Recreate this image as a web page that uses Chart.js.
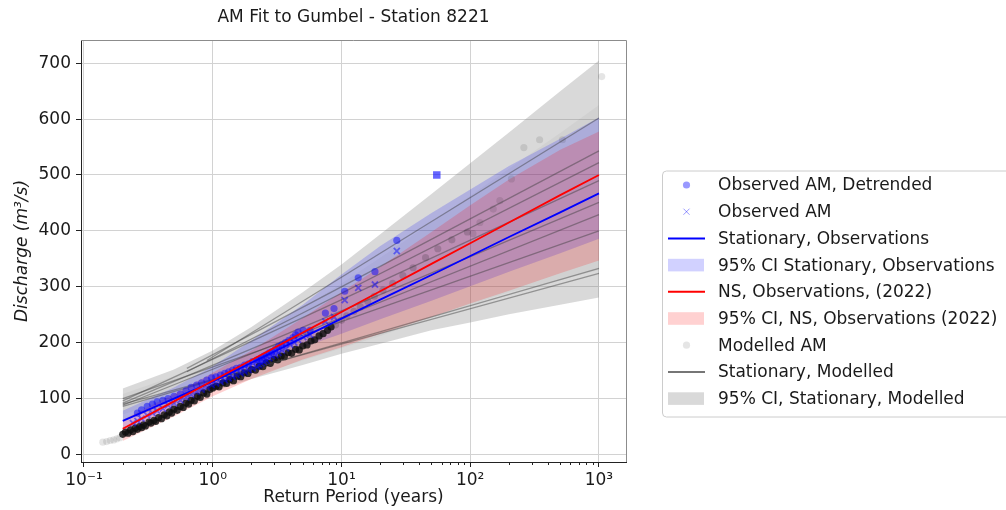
<!DOCTYPE html>
<html>
<head>
<meta charset="utf-8">
<title>AM Fit to Gumbel - Station 8221</title>
<script src="https://cdn.jsdelivr.net/npm/chart.js@4.4.1/dist/chart.umd.min.js"></script>
<style>
  html, body { margin: 0; padding: 0; background: #fff; }
  #wrap { position: relative; width: 1006px; height: 510px; }
</style>
</head>
<body>
<div id="wrap"><canvas id="gumbel" width="1006" height="510"></canvas></div>
<script>
// Return periods (years) where the fitted curves and their CIs are sampled
const returnPeriods = [0.2, 0.5, 1, 2, 5, 10, 20, 50, 100, 200, 500, 1000];

// Stationary fit to observations + 95% CI
const statObsFit   = [60, 100, 130, 164, 209, 243, 277, 321, 355, 389, 433, 467];
const statObsLower = [42, 84, 118, 152, 192, 216, 242, 275, 301, 327, 360, 386];
const statObsUpper = [78, 120, 158, 204, 268, 322, 373, 432, 474, 516, 565, 603];

// Non-stationary fit (2022) + 95% CI
const nsObsFit   = [46, 95, 132, 169, 218, 255, 292, 341, 378, 415, 464, 500];
const nsObsLower = [24, 68, 104, 135, 170, 192, 216, 246, 270, 293, 324, 347];
const nsObsUpper = [62, 108, 146, 186, 244, 290, 336, 398, 446, 492, 545, 578];

// 95% CI of the stationary fits to modelled members (outer envelope and core overlap)
const modelledCiUpper      = [118, 152, 186, 228, 290, 340, 394, 466, 521, 576, 650, 705];
const modelledCiLower      = [62, 90, 112, 135, 160, 180, 198, 222, 236, 251, 268, 281];
const modelledCiInnerUpper = [108, 140, 172, 208, 262, 306, 352, 415, 463, 511, 575, 625];
const modelledCiInnerLower = [72, 98, 118, 140, 168, 190, 212, 244, 268, 290, 312, 330];

// Stationary fits to each modelled member: start point, all run out to 1000 years
const modelledFitEndT   = 1000;
const modelledFitStartT = [0.9, 0.63, 0.63, 0.2, 0.2, 0.2, 0.2, 0.2, 0.2];
const modelledFitStartQ = [168, 154, 148, 96, 92, 88, 100, 86, 90];
const modelledFitEndQ   = [602, 543, 522, 490, 451, 429, 400, 333, 324];

// Observed annual maxima, detrended
const obsDetrendedT = [26.9, 18.2, 13.5, 10.6, 8.75, 7.5, 5.7, 5.05, 4.6, 4.4, 4.2, 3.9, 3.67, 3.44, 3.24, 3.06,
  2.89, 2.75, 2.62, 2.5, 2.39, 2.29, 2.2, 2.04, 1.9, 1.77, 1.65, 1.53, 1.43, 1.33, 1.24, 1.15, 1.06, 0.98, 0.9,
  0.82, 0.75, 0.68, 0.62, 0.56, 0.5, 0.45, 0.41, 0.37, 0.34, 0.31, 0.28, 0.26];
const obsDetrendedQ = [383, 327, 316, 292, 261, 253, 222, 222, 219, 214, 209, 204, 200, 196, 193, 188,
  184, 182, 178, 176, 173, 170, 169, 166, 162, 160, 156, 154, 151, 148, 145, 142, 139, 137, 133,
  128, 124, 120, 114, 108, 104, 100, 97, 94, 90, 86, 80, 74];

// Observed annual maxima
const obsAmT = [26.9, 18.2, 13.5, 10.6, 8.75, 7.5, 5.7, 5.05, 4.6, 4.3, 4.0, 3.7, 3.44, 3.24, 3.06, 2.89,
  2.75, 2.62, 2.5, 2.39, 2.29, 2.2, 2.04, 1.9, 1.77, 1.65, 1.53, 1.43, 1.33, 1.24, 1.15, 1.06, 0.98, 0.9,
  0.82, 0.75, 0.68, 0.62, 0.56, 0.5, 0.45, 0.41, 0.37, 0.34, 0.31, 0.28, 0.26, 0.24];
const obsAmQ = [364, 304, 298, 276, 246, 238, 214, 210, 205, 200, 196, 190, 186, 182, 178, 176,
  172, 168, 166, 163, 160, 157, 154, 151, 148, 145, 142, 139, 136, 133, 130, 127, 124, 120,
  116, 112, 107, 102, 97, 92, 88, 82, 78, 74, 70, 64, 60, 56];

// Record event
const obsRecordT = [55];
const obsRecordQ = [500];

// Modelled annual maxima (pooled members): dense body, upper chain, sparse extremes
const modelledDenseT = [0.2, 0.21, 0.22, 0.23, 0.24, 0.25, 0.26, 0.27, 0.28, 0.29, 0.3, 0.32, 0.33, 0.35, 0.36,
  0.38, 0.4, 0.42, 0.44, 0.46, 0.48, 0.5, 0.53, 0.56, 0.59, 0.62, 0.65, 0.68, 0.72, 0.76, 0.8, 0.85, 0.9, 0.95,
  1.0, 1.06, 1.12, 1.2, 1.28, 1.36, 1.45, 1.55, 1.65, 1.76, 1.88, 2.0, 2.15, 2.3, 2.45, 2.6, 2.8, 3.0, 3.2, 3.4,
  3.6, 3.85, 4.1, 4.4, 4.7, 5.0, 5.4, 5.8, 6.2, 6.7, 7.2, 7.8, 8.3];
const modelledDenseQ = [36, 40, 38, 44, 41, 47, 45, 50, 48, 53, 51, 58, 56, 61, 59,
  66, 64, 71, 69, 76, 74, 81, 79, 86, 84, 92, 90, 97, 96, 104, 102, 110, 108, 116,
  119, 122, 121, 128, 127, 134, 132, 140, 139, 146, 145, 152, 151, 158, 157, 164, 163, 170, 169, 176,
  175, 182, 181, 188, 187, 194, 196, 203, 205, 212, 216, 222, 228];
const modelledMidT = [9, 10, 11, 12.5, 14, 16, 18, 21, 25, 30, 36, 45, 56, 72, 95];
const modelledMidQ = [232, 240, 248, 256, 264, 274, 283, 294, 306, 320, 334, 352, 368, 384, 398];
const modelledSparseT = [0.14, 0.15, 0.16, 0.17, 0.18, 0.19, 105, 119, 151, 170, 209, 261, 346, 520, 1050];
const modelledSparseQ = [22, 23, 25, 26, 28, 30, 395, 415, 439, 454, 493, 549, 563, 563, 676];

// Axes
const xMin = 0.0948, xMax = 1622;
const yMin = -13.5, yMax = 741.5;
const xTicks = [0.1, 1, 10, 100, 1000];
const xTickLabels = ['10⁻¹', '10⁰', '10¹', '10²', '10³'];
const xMinorTicks = [];
[0.1, 1, 10, 100].forEach(d => { for (let k = 2; k <= 9; k++) xMinorTicks.push(d * k); });
const yTicks = [0, 100, 200, 300, 400, 500, 600, 700];

const colors = {
  obs: 'rgba(0, 0, 255, 0.48)',
  obsLegend: 'rgba(0, 0, 255, 0.4)',
  statLine: '#0000ff',
  statBand: 'rgba(0, 0, 255, 0.18)',
  nsLine: '#ff0000',
  nsBand: 'rgba(255, 0, 0, 0.18)',
  modelledLine: 'rgba(60, 60, 60, 0.45)',
  modelledBand: 'rgba(128, 128, 128, 0.3)',
  modelledBandInner: 'rgba(110, 110, 110, 0.08)',
  modelledDense: 'rgba(15, 15, 15, 0.82)',
  modelledMid: 'rgba(0, 0, 0, 0.16)',
  modelledSparse: 'rgba(0, 0, 0, 0.1)',
  text: '#1a1a1a'
};

const FONT = "'DejaVu Sans', 'Liberation Sans', sans-serif";
Chart.defaults.font.family = FONT;
Chart.defaults.font.size = 17;
Chart.defaults.color = colors.text;

const xy = (xs, ys) => xs.map((x, i) => ({ x, y: ys[i] }));

function band(upper, lower, color, order) {
  return [
    { data: xy(returnPeriods, upper), borderWidth: 0, pointRadius: 0, fill: false, order },
    { data: xy(returnPeriods, lower), borderWidth: 0, pointRadius: 0, fill: '-1', backgroundColor: color, order }
  ];
}

function scatter(label, xs, ys, opts, order) {
  return Object.assign({
    label, data: xy(xs, ys), showLine: false, order,
    pointRadius: 3.6, pointBorderWidth: 0
  }, opts);
}

function fitLine(label, xs, ys, color, width, order) {
  return { label, data: xy(xs, ys), borderColor: color, borderWidth: width, pointRadius: 0, fill: false, order };
}

const datasets = [
  ...band(modelledCiUpper, modelledCiLower, colors.modelledBand, 100),
  ...band(modelledCiInnerUpper, modelledCiInnerLower, colors.modelledBandInner, 99),
  ...band(statObsUpper, statObsLower, colors.statBand, 90),
  ...band(nsObsUpper, nsObsLower, colors.nsBand, 85),
  scatter('Modelled AM', modelledSparseT, modelledSparseQ, { pointBackgroundColor: colors.modelledSparse }, 82),
  scatter('Modelled AM', modelledMidT, modelledMidQ, { pointBackgroundColor: colors.modelledMid }, 81),
  scatter('Modelled AM', modelledDenseT, modelledDenseQ,
    { pointBackgroundColor: colors.modelledDense, pointRadius: 3.6 }, 80),
  ...modelledFitStartT.map((t, i) => fitLine('Stationary, Modelled',
    [t, modelledFitEndT], [modelledFitStartQ[i], modelledFitEndQ[i]], colors.modelledLine, 1.3, 70)),
  scatter('Observed AM', obsAmT, obsAmQ,
    { pointStyle: 'crossRot', pointRadius: 4.3, pointBorderWidth: 1.8, pointBorderColor: colors.obs }, 61),
  scatter('Observed AM, Detrended', obsDetrendedT, obsDetrendedQ, { pointBackgroundColor: colors.obs }, 60),
  scatter('Observed AM, record', obsRecordT, obsRecordQ,
    { pointStyle: 'rect', pointRadius: 5.3, pointBackgroundColor: 'rgba(0, 0, 255, 0.6)' }, 59),
  fitLine('Stationary, Observations', returnPeriods, statObsFit, colors.statLine, 1.8, 50),
  fitLine('NS, Observations, (2022)', returnPeriods, nsObsFit, colors.nsLine, 1.8, 49)
];

const legendItems = [
  { label: 'Observed AM, Detrended', kind: 'point', style: 'circle', color: colors.obsLegend, radius: 3.6 },
  { label: 'Observed AM', kind: 'point', style: 'crossRot', color: colors.obsLegend, radius: 4.3 },
  { label: 'Stationary, Observations', kind: 'line', color: colors.statLine },
  { label: '95% CI Stationary, Observations', kind: 'patch', color: colors.statBand },
  { label: 'NS, Observations, (2022)', kind: 'line', color: colors.nsLine },
  { label: '95% CI, NS, Observations (2022)', kind: 'patch', color: colors.nsBand },
  { label: 'Modelled AM', kind: 'point', style: 'circle', color: colors.modelledSparse, radius: 3.6 },
  { label: 'Stationary, Modelled', kind: 'line', color: 'rgba(60, 60, 60, 0.7)' },
  { label: '95% CI, Stationary, Modelled', kind: 'patch', color: colors.modelledBand }
];

// Title, top/right spines, minor x ticks and the legend box
const decorations = {
  id: 'decorations',
  afterDraw(chart) {
    const { ctx, chartArea: a, scales: { x } } = chart;
    ctx.save();

    ctx.strokeStyle = '#8c8c8c';
    ctx.lineWidth = 1;
    ctx.beginPath();
    ctx.moveTo(a.left, a.top + 0.5);
    ctx.lineTo(a.right + 0.5, a.top + 0.5);
    ctx.lineTo(a.right + 0.5, a.bottom);
    ctx.stroke();

    ctx.strokeStyle = '#222';
    ctx.beginPath();
    xMinorTicks.forEach(v => {
      const px = Math.round(x.getPixelForValue(v)) + 0.5;
      ctx.moveTo(px, a.bottom);
      ctx.lineTo(px, a.bottom + 3);
    });
    ctx.stroke();

    ctx.fillStyle = colors.text;
    ctx.font = `17px ${FONT}`;
    ctx.textAlign = 'center';
    ctx.textBaseline = 'middle';
    ctx.fillText('AM Fit to Gumbel - Station 8221', (a.left + a.right) / 2, 18);

    // legend
    const bx = 662.5, by = 171, bw = 360, bh = 246;
    ctx.beginPath();
    ctx.roundRect(bx, by, bw, bh, 4);
    ctx.fillStyle = 'rgba(255, 255, 255, 0.8)';
    ctx.fill();
    ctx.strokeStyle = '#cccccc';
    ctx.stroke();

    const rowY0 = 185, rowStep = 26.7, mx = 686.5;
    ctx.textAlign = 'left';
    legendItems.forEach((item, i) => {
      const y = rowY0 + i * rowStep;
      if (item.kind === 'point') {
        ctx.fillStyle = item.color;
        ctx.strokeStyle = item.color;
        Chart.helpers.drawPoint(ctx, {
          pointStyle: item.style, radius: item.radius, rotation: 0,
          borderWidth: item.style === 'crossRot' ? 2 : 0
        }, mx, y);
      } else if (item.kind === 'line') {
        ctx.strokeStyle = item.color;
        ctx.lineWidth = 2;
        ctx.beginPath();
        ctx.moveTo(668, y);
        ctx.lineTo(705, y);
        ctx.stroke();
      } else {
        ctx.fillStyle = item.color;
        ctx.fillRect(668, y - 6.3, 36, 12.6);
      }
      ctx.fillStyle = colors.text;
      ctx.fillText(item.label, 718, y + 1);
    });
    ctx.restore();
  }
};

new Chart(document.getElementById('gumbel'), {
  type: 'line',
  data: { datasets },
  options: {
    responsive: false,
    animation: false,
    events: [],
    layout: { padding: { left: 0, top: 40, right: 380, bottom: 0 } },
    plugins: {
      legend: { display: false },
      tooltip: { enabled: false },
      title: { display: false }
    },
    scales: {
      x: {
        type: 'logarithmic',
        min: xMin,
        max: xMax,
        bounds: 'data',
        afterBuildTicks: s => { s.ticks = xTicks.map(v => ({ value: v, major: true })); },
        afterFit: s => { s.height = 48; },
        ticks: {
          autoSkip: false,
          maxRotation: 0,
          padding: 3,
          callback: (v, i) => xTickLabels[i]
        },
        grid: { color: '#d2d2d2', tickColor: '#222', tickLength: 5 },
        border: { color: '#222', width: 1 },
        title: { display: true, text: 'Return Period (years)', padding: { top: 0, bottom: 2 } }
      },
      y: {
        type: 'linear',
        min: yMin,
        max: yMax,
        bounds: 'data',
        afterBuildTicks: s => { s.ticks = yTicks.map(v => ({ value: v })); },
        afterFit: s => { s.width = 81; },
        ticks: { padding: 5 },
        grid: { color: '#d2d2d2', tickColor: '#222', tickLength: 5 },
        border: { color: '#222', width: 1 },
        title: {
          display: true,
          text: 'Discharge (m³/s)',
          font: { style: 'italic' },
          padding: { top: 12, bottom: 0 }
        }
      }
    }
  },
  plugins: [decorations]
});
</script>
</body>
</html>
